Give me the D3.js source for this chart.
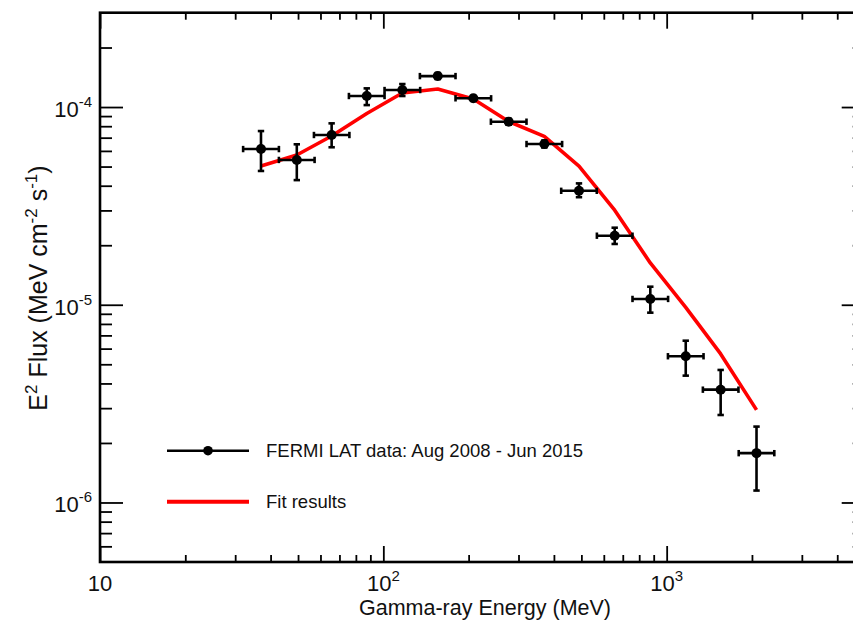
<!DOCTYPE html>
<html>
<head>
<meta charset="utf-8">
<script src="https://cdn.jsdelivr.net/npm/d3@7"></script>
<style>
  html, body { margin: 0; padding: 0; background: #fff; }
  svg { display: block; font-family: "Liberation Sans", Arial, sans-serif; }
</style>
</head>
<body>
<svg id="chart" width="853" height="621"></svg>
<script>
// ---- data ----
const energy   = [37.0, 49.5, 65.7, 87.4, 116.7, 155.6, 207.8, 277.0, 370.0, 490.4, 655.5, 875.5, 1167.7, 1550.9, 2075.6];
const energyLow  = [32.0, 42.8, 56.9, 75.6, 101.0, 134.6, 179.8, 239.7, 320.2, 424.4, 567.2, 757.6, 1010.5, 1342.1, 1796.1];
const energyHigh = [42.8, 57.2, 75.9, 101.0, 134.9, 179.8, 240.1, 320.1, 427.6, 566.7, 757.5, 1011.7, 1349.4, 1792.2, 2398.5];
const flux     = [6.13e-5, 5.40e-5, 7.22e-5, 1.137e-4, 1.219e-4, 1.434e-4, 1.107e-4, 8.43e-5, 6.50e-5, 3.77e-5, 2.235e-5, 1.07e-5, 5.49e-6, 3.72e-6, 1.776e-6];
const fluxHigh = [7.56e-5, 6.48e-5, 8.27e-5, 1.243e-4, 1.307e-4, 1.485e-4, 1.139e-4, 8.73e-5, 6.77e-5, 4.11e-5, 2.453e-5, 1.234e-5, 6.58e-6, 4.68e-6, 2.42e-6];
const fluxLow  = [4.75e-5, 4.27e-5, 6.26e-5, 1.023e-4, 1.137e-4, 1.385e-4, 1.075e-4, 8.14e-5, 6.24e-5, 3.50e-5, 2.03e-5, 9.12e-6, 4.38e-6, 2.77e-6, 1.149e-6];
const fitFlux  = [5.03e-5, 5.72e-5, 7.14e-5, 9.27e-5, 1.177e-4, 1.233e-4, 1.098e-4, 8.45e-5, 7.10e-5, 5.03e-5, 3.01e-5, 1.627e-5, 9.70e-6, 5.64e-6, 2.94e-6];

const xDomain = [10, 5000];
const yDomain = [5e-7, 3e-4];
const xMajorTicks = [10, 100, 1000];
const xTickBase = ["10", "10", "10"];
const xTickExp  = ["", "2", "3"];
const xMinorTicks = [20,30,40,50,60,70,80,90,200,300,400,500,600,700,800,900,2000,3000,4000];
const yMajorTicks = [1e-6, 1e-5, 1e-4];
const yTickBase = ["10", "10", "10"];
const yTickExp  = ["-6", "-5", "-4"];
const yMinorTicks = [6e-7,7e-7,8e-7,9e-7,2e-6,3e-6,4e-6,5e-6,6e-6,7e-6,8e-6,9e-6,
                     2e-5,3e-5,4e-5,5e-5,6e-5,7e-5,8e-5,9e-5,2e-4];
const legendLabels = ["FERMI LAT data: Aug 2008 - Jun 2015", "Fit results"];
const xTitle = "Gamma-ray Energy (MeV)";

// ---- layout ----
const L = 100, R = 864.7, T = 12.7, B = 562;
const svg = d3.select("#chart");
const x = d3.scaleLog().domain(xDomain).range([L, R]);
const y = d3.scaleLog().domain(yDomain).range([B, T]);

function styleAxis(g, w) {
  g.select(".domain").remove();
  g.selectAll(".tick line").attr("stroke", "#000").attr("stroke-width", w);
  g.selectAll(".tick text").remove();
}

// bottom / top axes
svg.append("g").attr("transform", `translate(0,${B})`)
  .call(d3.axisBottom(x).tickValues(xMajorTicks).tickSize(-16).tickFormat(""))
  .call(g => styleAxis(g, 1.8));
svg.append("g").attr("transform", `translate(0,${B})`)
  .call(d3.axisBottom(x).tickValues(xMinorTicks).tickSize(-7).tickFormat(""))
  .call(g => styleAxis(g, 1.8));
svg.append("g").attr("transform", `translate(0,${T})`)
  .call(d3.axisTop(x).tickValues(xMajorTicks).tickSize(-16).tickFormat(""))
  .call(g => styleAxis(g, 1.8));
svg.append("g").attr("transform", `translate(0,${T})`)
  .call(d3.axisTop(x).tickValues(xMinorTicks).tickSize(-7).tickFormat(""))
  .call(g => styleAxis(g, 1.8));
// left / right axes
svg.append("g").attr("transform", `translate(${L},0)`)
  .call(d3.axisLeft(y).tickValues(yMajorTicks).tickSize(-23).tickFormat(""))
  .call(g => styleAxis(g, 1.8));
svg.append("g").attr("transform", `translate(${L},0)`)
  .call(d3.axisLeft(y).tickValues(yMinorTicks).tickSize(-12).tickFormat(""))
  .call(g => styleAxis(g, 1.8));
svg.append("g").attr("transform", `translate(${R},0)`)
  .call(d3.axisRight(y).tickValues(yMajorTicks).tickSize(-23).tickFormat(""))
  .call(g => styleAxis(g, 1.8));
svg.append("g").attr("transform", `translate(${R},0)`)
  .call(d3.axisRight(y).tickValues(yMinorTicks).tickSize(-12).tickFormat(""))
  .call(g => styleAxis(g, 1.8));

// frame
svg.append("rect").attr("x", L).attr("y", T).attr("width", R - L).attr("height", B - T)
  .attr("fill", "none").attr("stroke", "#000").attr("stroke-width", 2.6);

// tick labels
const xl = svg.append("g").selectAll("text").data(xMajorTicks).join("text")
  .attr("x", d => x(d)).attr("y", 591).attr("text-anchor", "middle")
  .attr("font-size", 22).attr("fill", "#111");
xl.append("tspan").text((d, i) => xTickBase[i]);
xl.append("tspan").attr("font-size", 15).attr("dy", -10).text((d, i) => xTickExp[i]);

const yl = svg.append("g").selectAll("text").data(yMajorTicks).join("text")
  .attr("x", 92).attr("y", d => y(d) + 10).attr("text-anchor", "end")
  .attr("font-size", 22).attr("fill", "#111");
yl.append("tspan").text((d, i) => yTickBase[i]);
yl.append("tspan").attr("font-size", 15).attr("dy", -10).text((d, i) => yTickExp[i]);

// axis titles
svg.append("text").attr("x", 485).attr("y", 615).attr("text-anchor", "middle")
  .attr("font-size", 21.5).attr("fill", "#111").text(xTitle);

const yt = svg.append("text").attr("transform", "translate(47,288) rotate(-90)")
  .attr("text-anchor", "middle").attr("font-size", 25).attr("fill", "#111");
yt.append("tspan").text("E");
yt.append("tspan").attr("font-size", 17).attr("dy", -10).text("2");
yt.append("tspan").attr("dy", 10).text(" Flux (MeV cm");
yt.append("tspan").attr("font-size", 17).attr("dy", -10).text("-2");
yt.append("tspan").attr("dy", 10).text(" s");
yt.append("tspan").attr("font-size", 17).attr("dy", -10).text("-1");
yt.append("tspan").attr("dy", 10).text(")");

// fit line
const idx = d3.range(energy.length);
svg.append("path")
  .datum(idx)
  .attr("fill", "none").attr("stroke", "#ff0000").attr("stroke-width", 3.6)
  .attr("stroke-linejoin", "round")
  .attr("d", d3.line().x(i => x(energy[i])).y(i => y(fitFlux[i])));

// data points with error bars
const pts = svg.append("g").attr("stroke", "#000").attr("stroke-width", 2.6);
const cap = 3.2;
idx.forEach(i => {
  const cx = x(energy[i]), cy = y(flux[i]);
  const x0 = x(energyLow[i]), x1 = x(energyHigh[i]);
  const y0 = y(fluxLow[i]), y1 = y(fluxHigh[i]);
  pts.append("line").attr("x1", x0).attr("x2", x1).attr("y1", cy).attr("y2", cy);
  pts.append("line").attr("x1", cx).attr("x2", cx).attr("y1", y0).attr("y2", y1);
  pts.append("line").attr("x1", x0).attr("x2", x0).attr("y1", cy - cap).attr("y2", cy + cap);
  pts.append("line").attr("x1", x1).attr("x2", x1).attr("y1", cy - cap).attr("y2", cy + cap);
  pts.append("line").attr("x1", cx - cap).attr("x2", cx + cap).attr("y1", y0).attr("y2", y0);
  pts.append("line").attr("x1", cx - cap).attr("x2", cx + cap).attr("y1", y1).attr("y2", y1);
  svg.append("circle").attr("cx", cx).attr("cy", cy).attr("r", 5).attr("fill", "#000");
});

// legend
const lg = svg.append("g");
lg.append("line").attr("x1", 167).attr("x2", 249).attr("y1", 450.7).attr("y2", 450.7)
  .attr("stroke", "#000").attr("stroke-width", 2.6);
lg.append("circle").attr("cx", 208).attr("cy", 450.7).attr("r", 4.8).attr("fill", "#000");
lg.append("text").attr("x", 266).attr("y", 457).attr("font-size", 18.5).attr("fill", "#111")
  .text(legendLabels[0]);
lg.append("line").attr("x1", 167).attr("x2", 249).attr("y1", 501.7).attr("y2", 501.7)
  .attr("stroke", "#ff0000").attr("stroke-width", 4);
lg.append("text").attr("x", 266).attr("y", 508).attr("font-size", 18.5).attr("fill", "#111")
  .text(legendLabels[1]);
</script>
</body>
</html>
